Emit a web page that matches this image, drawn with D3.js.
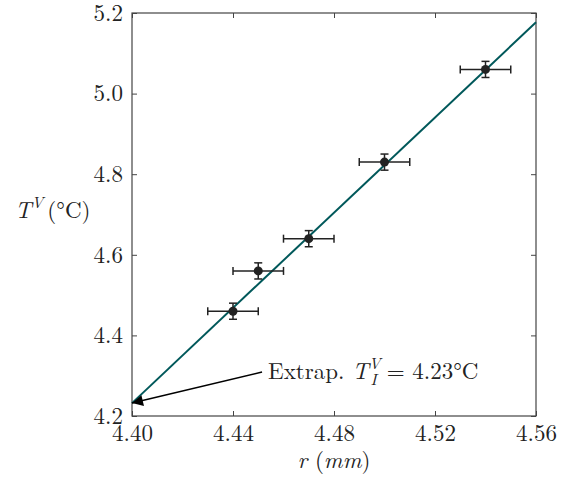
<!DOCTYPE html>
<html>
<head>
<meta charset="utf-8">
<script src="https://cdn.jsdelivr.net/npm/d3@7"></script>
<style>
body{margin:0;background:#fff;}
</style>
</head>
<body>
<svg id="svg_canvas" width="571" height="479"></svg>
<script>
// measured points, r in mm and T in degC
var r_vals=[4.44,4.45,4.47,4.50,4.54];
var t_vals=[4.46,4.56,4.64,4.83,5.06];
var r_err=[0.01,0.01,0.01,0.01,0.01];
var t_err=[0.02,0.02,0.02,0.02,0.02];

// linear fit, read at the plot edges
var fit_r=[4.40,4.56];
var fit_t=[4.232,5.177];

var x_ticks=[4.40,4.44,4.48,4.52,4.56];
var y_ticks=[4.2,4.4,4.6,4.8,5.0,5.2];

var extrap_r=4.40, extrap_t=4.232;
var label_r=4.4515, label_t=4.309;

var left_x=132, right_x=536, top_y=13, bottom_y=416;
var tick_len=5;
var line_color="#00585a";
var font="'Latin Modern Roman', 'CMU Serif', serif";

var svg=d3.select("#svg_canvas").style("font-family",font);

var x=d3.scaleLinear().domain([4.40,4.56]).range([left_x,right_x]);
var y=d3.scaleLinear().domain([4.2,5.2]).range([bottom_y,top_y]);

svg.append("defs").append("marker")
	.attr("id","to_arrow")
	.attr("viewBox","0 0 10 10")
	.attr("refX",10).attr("refY",5)
	.attr("markerWidth",16).attr("markerHeight",11)
	.attr("markerUnits","userSpaceOnUse")
	.attr("orient","auto")
	.append("path").attr("d","M0,0L10,5L0,10z").attr("fill","#000");

// axes, ticks inward on all four sides
function style_axis(g){
	g.attr("font-family",null).attr("font-size",null);
	g.select(".domain").remove();
	g.selectAll(".tick line").attr("stroke","#444").attr("stroke-width",1);
	g.selectAll(".tick text").style("font-family",font).style("font-size","23px").attr("fill","#222");
}

svg.append("g").attr("transform","translate(0,"+bottom_y+")")
	.call(d3.axisBottom(x).tickValues(x_ticks).tickFormat(d3.format(".2f")).tickSizeInner(-tick_len).tickSizeOuter(0).tickPadding(9))
	.call(style_axis);
svg.append("g").attr("transform","translate(0,"+top_y+")")
	.call(d3.axisTop(x).tickValues(x_ticks).tickFormat("").tickSizeInner(-tick_len).tickSizeOuter(0))
	.call(style_axis);
svg.append("g").attr("transform","translate("+left_x+",0)")
	.call(d3.axisLeft(y).tickValues(y_ticks).tickFormat(d3.format(".1f")).tickSizeInner(-tick_len).tickSizeOuter(0).tickPadding(9))
	.call(style_axis);
svg.append("g").attr("transform","translate("+right_x+",0)")
	.call(d3.axisRight(y).tickValues(y_ticks).tickFormat("").tickSizeInner(-tick_len).tickSizeOuter(0))
	.call(style_axis);

svg.append("rect")
	.attr("x",left_x).attr("y",top_y)
	.attr("width",right_x-left_x).attr("height",bottom_y-top_y)
	.attr("fill","none").attr("stroke","#444").attr("stroke-width",1.2);

// fit line
svg.append("line")
	.attr("x1",x(fit_r[0])).attr("y1",y(fit_t[0]))
	.attr("x2",x(fit_r[1])).attr("y2",y(fit_t[1]))
	.attr("stroke",line_color).attr("stroke-width",2);

// error bars + markers
var pts=r_vals.map(function(r,i){return {r:r,t:t_vals[i],dr:r_err[i],dt:t_err[i]};});
var cap=4;
var g=svg.append("g").selectAll("g").data(pts).enter().append("g")
	.attr("stroke","#222").attr("stroke-width",1.5);

g.append("line")
	.attr("x1",function(d){return x(d.r-d.dr);}).attr("x2",function(d){return x(d.r+d.dr);})
	.attr("y1",function(d){return y(d.t);}).attr("y2",function(d){return y(d.t);});
g.append("line")
	.attr("x1",function(d){return x(d.r);}).attr("x2",function(d){return x(d.r);})
	.attr("y1",function(d){return y(d.t-d.dt);}).attr("y2",function(d){return y(d.t+d.dt);});
[-1,1].forEach(function(s){
	g.append("line")
		.attr("x1",function(d){return x(d.r+s*d.dr);}).attr("x2",function(d){return x(d.r+s*d.dr);})
		.attr("y1",function(d){return y(d.t)-cap;}).attr("y2",function(d){return y(d.t)+cap;});
	g.append("line")
		.attr("x1",function(d){return x(d.r)-cap;}).attr("x2",function(d){return x(d.r)+cap;})
		.attr("y1",function(d){return y(d.t+s*d.dt);}).attr("y2",function(d){return y(d.t+s*d.dt);});
});
g.append("circle")
	.attr("cx",function(d){return x(d.r);}).attr("cy",function(d){return y(d.t);})
	.attr("r",4.5).attr("fill","#222").attr("stroke","none");

// annotation
svg.append("line")
	.attr("x1",x(label_r)).attr("y1",y(label_t))
	.attr("x2",x(extrap_r)).attr("y2",y(extrap_t))
	.attr("stroke","#000").attr("stroke-width",1.5)
	.attr("marker-end","url(#to_arrow)");

var ann=svg.append("text")
	.attr("x",x(label_r)+6).attr("y",y(label_t)+7)
	.attr("font-size",23).attr("fill","#222");
ann.append("tspan").text("Extrap. ");
ann.append("tspan").attr("font-style","italic").text("T");
ann.append("tspan").attr("font-style","italic").attr("font-size",16).attr("dy",-10).text("V");
ann.append("tspan").attr("font-style","italic").attr("font-size",16).attr("dx",-10).attr("dy",16).text("I");
ann.append("tspan").attr("dx",10).attr("dy",-6).text("= 4.23°C");

// axis labels
var xl=svg.append("text")
	.attr("x",(left_x+right_x)/2).attr("y",468)
	.attr("text-anchor","middle").attr("font-size",23).attr("fill","#222");
xl.append("tspan").attr("font-style","italic").text("r");
xl.append("tspan").text("  (");
xl.append("tspan").attr("font-style","italic").text("mm");
xl.append("tspan").text(")");

var yl=svg.append("text")
	.attr("x",15).attr("y",218)
	.attr("font-size",23).attr("fill","#222");
yl.append("tspan").attr("font-style","italic").text("T");
yl.append("tspan").attr("font-style","italic").attr("font-size",16).attr("dy",-10).text("V");
yl.append("tspan").attr("dy",10).attr("dx",4).text("(°C)");
</script>
</body>
</html>
